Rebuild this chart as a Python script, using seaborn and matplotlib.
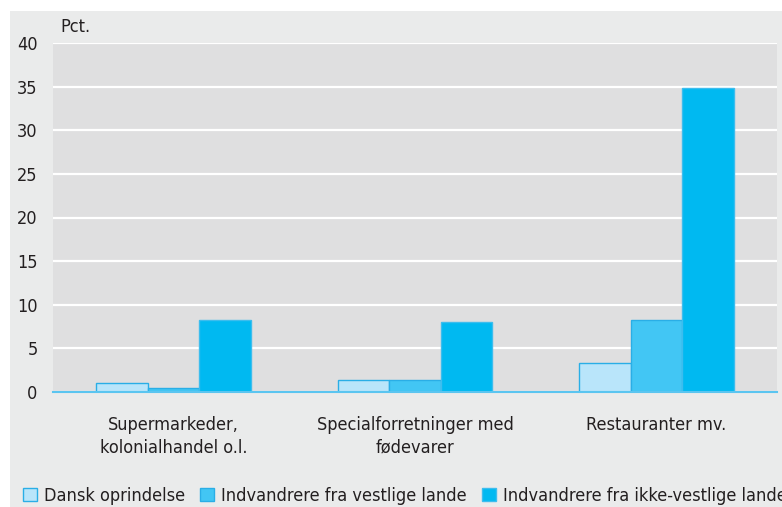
import pandas as pd
import matplotlib.pyplot as plt
import seaborn as sns
from matplotlib.patches import Rectangle, Patch

categories = ["Supermarkeder,\nkolonialhandel o.l.",
              "Specialforretninger med\nfødevarer",
              "Restauranter mv."]
groups = ["Dansk oprindelse",
          "Indvandrere fra vestlige lande",
          "Indvandrere fra ikke-vestlige lande"]
dansk = [1.0, 1.4, 3.3]
vestlige = [0.5, 1.4, 8.3]
ikke_vestlige = [8.3, 8.0, 34.8]
yticks = [0, 5, 10, 15, 20, 25, 30, 35, 40]

colors = ["#B9E5FA", "#42C6F4", "#00B9F1"]
edges = ["#2AAEE6", "#2AAEE6", "#3DBDEE"]
textcol = "#231F20"

df = pd.DataFrame({
    "kategori": categories * 3,
    "gruppe": [groups[0]] * 3 + [groups[1]] * 3 + [groups[2]] * 3,
    "pct": dansk + vestlige + ikke_vestlige,
})

sns.set_style("white")
plt.rcParams["font.family"] = ["DejaVu Sans"]
plt.rcParams["font.stretch"] = "condensed"

fig = plt.figure(figsize=(7.82, 5.07), dpi=100, facecolor="white")
fig.patches.append(Rectangle((10 / 782, 0), 1, 1 - 11 / 507,
                             transform=fig.transFigure, facecolor="#EAEBEB",
                             edgecolor="none", zorder=-5))
ax = fig.add_axes([53 / 782, 1 - 392 / 507, 724 / 782, 349 / 507])
ax.set_zorder(1)
ax.set_facecolor("#DFDFE0")

sns.barplot(data=df, x="kategori", y="pct", hue="gruppe", hue_order=groups,
            palette=colors, saturation=1, width=0.64, ax=ax, legend=False, zorder=3)
for i, cont in enumerate(ax.containers):
    for bar in cont:
        bar.set_edgecolor(edges[i])
        bar.set_linewidth(1.0)

ax.set_xlim(-0.5, 2.5)
ax.set_ylim(0, 40)
ax.set_yticks(yticks)
ax.yaxis.grid(True, color="white", linewidth=1.6, zorder=1)
ax.set_axisbelow(True)
for s in ["top", "right", "left"]:
    ax.spines[s].set_visible(False)
ax.spines["bottom"].set_color("#5BC5F0")
ax.spines["bottom"].set_linewidth(1.5)
ax.spines["bottom"].set_zorder(4)
ax.tick_params(axis="both", length=0, labelsize=13, colors=textcol)
ax.tick_params(axis="y", pad=11)
ax.tick_params(axis="x", pad=17)
for lbl in ax.get_xticklabels():
    lbl.set_linespacing(1.35)
ax.set_xlabel("")
ax.set_ylabel("")

fig.text(60 / 782, 1 - 27 / 507, "Pct.", fontsize=13, color=textcol,
         va="center", ha="left")

handles = [Patch(facecolor=c, edgecolor=e, linewidth=1.0) for c, e in zip(colors, edges)]
fig.legend(handles, groups, loc="center left", bbox_to_anchor=(16 / 782, 1 - 496 / 507),
           ncol=3, frameon=False, fontsize=13, handlelength=0.75, handleheight=0.75,
           handletextpad=0.4, columnspacing=0.85, labelcolor=textcol, borderaxespad=0)

fig.savefig("out.png", dpi=100, facecolor="white")
